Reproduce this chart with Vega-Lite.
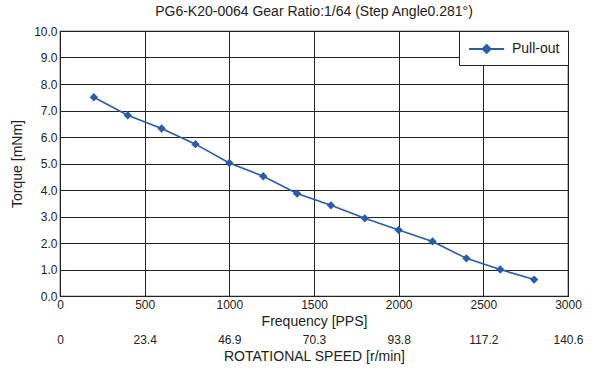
{
  "$schema": "https://vega.github.io/schema/vega-lite/v6.json",
  "width": 508,
  "height": 265,
  "autosize": {"type": "none"},
  "padding": {"left": 60, "top": 31, "right": 32, "bottom": 82},
  "background": "white",
  "title": {"text": "PG6-K20-0064 Gear Ratio:1/64 (Step Angle0.281°)", "font": "Liberation Sans", "fontSize": 14, "fontWeight": "normal", "color": "#222", "offset": 6},
  "config": {
    "view": {"stroke": "#222", "strokeWidth": 1.2},
    "font": "Liberation Sans",
    "axis": {"labelFont": "Liberation Sans", "titleFont": "Liberation Sans", "labelColor": "#222", "titleColor": "#222", "labelFontSize": 12, "titleFontSize": 14, "titleFontWeight": "normal", "gridColor": "#222", "gridOpacity": 1, "gridWidth": 1, "domainColor": "#222", "ticks": false}
  },
  "data": {"values": [
    {"pps": 200, "torque": 7.5, "series": "Pull-out"},
    {"pps": 400, "torque": 6.82, "series": "Pull-out"},
    {"pps": 600, "torque": 6.32, "series": "Pull-out"},
    {"pps": 800, "torque": 5.73, "series": "Pull-out"},
    {"pps": 1000, "torque": 5.02, "series": "Pull-out"},
    {"pps": 1200, "torque": 4.52, "series": "Pull-out"},
    {"pps": 1400, "torque": 3.87, "series": "Pull-out"},
    {"pps": 1600, "torque": 3.42, "series": "Pull-out"},
    {"pps": 1800, "torque": 2.93, "series": "Pull-out"},
    {"pps": 2000, "torque": 2.49, "series": "Pull-out"},
    {"pps": 2200, "torque": 2.06, "series": "Pull-out"},
    {"pps": 2400, "torque": 1.42, "series": "Pull-out"},
    {"pps": 2600, "torque": 1.0, "series": "Pull-out"},
    {"pps": 2800, "torque": 0.62, "series": "Pull-out"}
  ]},
  "resolve": {"axis": {"x": "independent", "y": "independent"}},
  "layer": [
    {
      "mark": {"type": "line", "strokeWidth": 1.6, "point": {"shape": "diamond", "size": 70, "filled": true, "opacity": 1}},
      "encoding": {
        "x": {"field": "pps", "type": "quantitative", "scale": {"domain": [0, 3000], "nice": false},
          "axis": {"values": [0, 500, 1000, 1500, 2000, 2500, 3000], "format": "d", "title": "Frequency [PPS]", "labelPadding": 3, "titlePadding": 4, "labelFlush": false}},
        "y": {"field": "torque", "type": "quantitative", "scale": {"domain": [0, 10], "nice": false},
          "axis": {"values": [0, 1, 2, 3, 4, 5, 6, 7, 8, 9, 10], "format": ".1f", "title": "Torque [mNm]", "labelPadding": 3, "titlePadding": 9}},
        "color": {"field": "series", "type": "nominal", "scale": {"range": ["#2b5ca8"]},
          "legend": {"title": null, "orient": "top-right", "offset": 0, "strokeColor": "#222", "fillColor": "white", "padding": 8, "labelFontSize": 14, "labelColor": "#222", "labelFont": "Liberation Sans", "labelOffset": 25, "symbolType": "M-0.9,0H3.1M1.1,-0.45L1.55,0L1.1,0.45L0.65,0Z", "symbolSize": 306, "symbolStrokeWidth": 2, "symbolFillColor": "#2b5ca8", "symbolStrokeColor": "#2b5ca8"}}
      }
    },
    {
      "mark": {"type": "point", "opacity": 0},
      "encoding": {
        "x": {"field": "pps", "type": "quantitative",
          "axis": {"values": [0, 500, 1000, 1500, 2000, 2500, 3000], "orient": "bottom", "offset": 34, "domain": false, "grid": false, "labelFlush": false, "labelPadding": 4, "titlePadding": 4,
            "labelExpr": "datum.value == 0 ? '0' : format(datum.value * 0.046875, '.1f')", "title": "ROTATIONAL SPEED [r/min]"}},
        "y": {"field": "torque", "type": "quantitative", "axis": null}
      }
    }
  ]
}
